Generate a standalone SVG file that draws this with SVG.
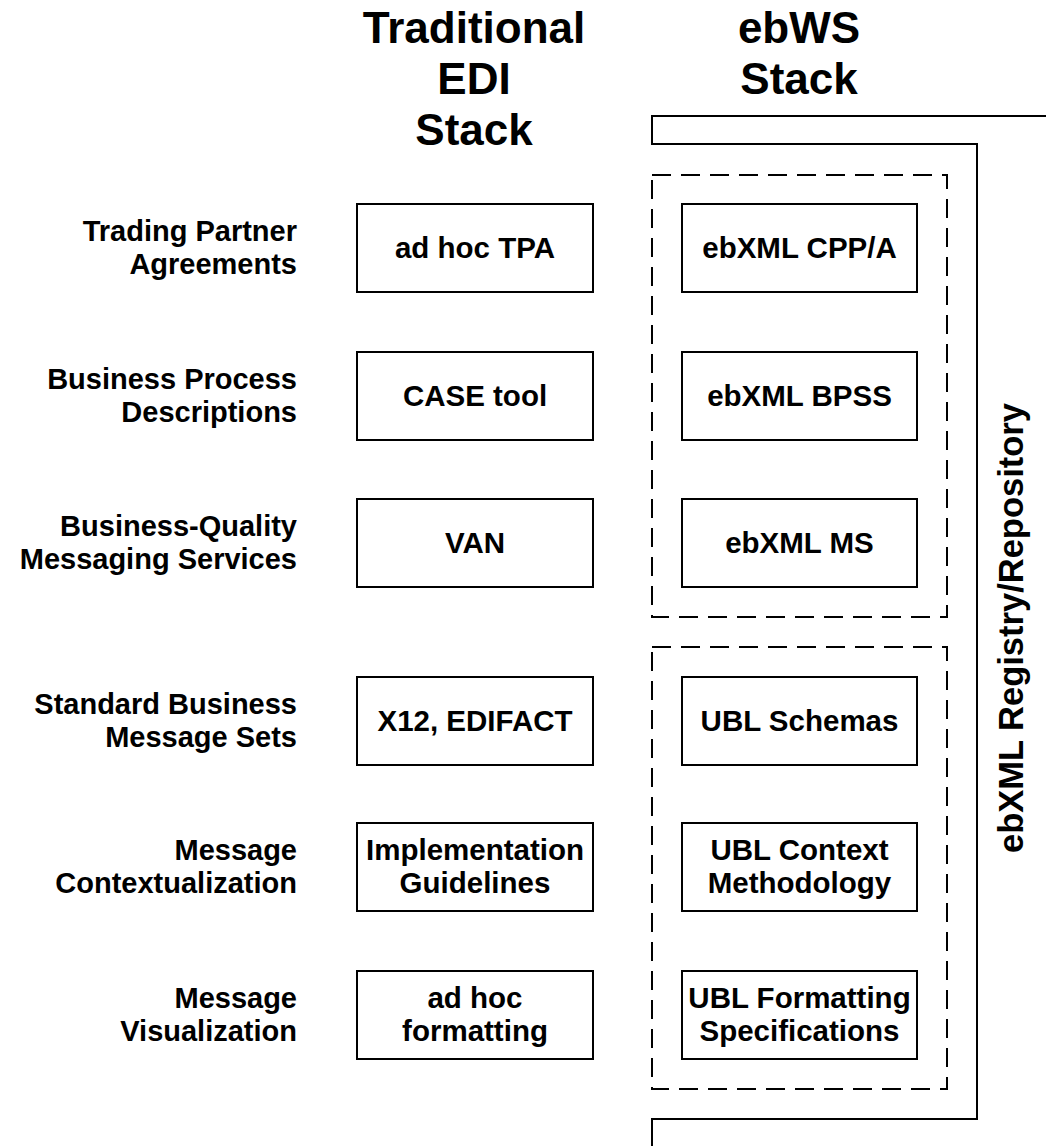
<svg xmlns="http://www.w3.org/2000/svg" width="1046" height="1146" viewBox="0 0 1046 1146">
<style>
text{font-family:"Liberation Sans",Arial,sans-serif;font-weight:bold;fill:#000}
.t{font-size:44px;text-anchor:middle}
.l{font-size:29px;text-anchor:end}
.b{font-size:29.5px;text-anchor:middle}
.v{font-size:34.5px;text-anchor:middle}
rect.n{fill:#fff;stroke:#000;stroke-width:2}
.d{fill:none;stroke:#000;stroke-width:2;stroke-dasharray:19 10}
.s{fill:none;stroke:#000;stroke-width:2}
</style>
<rect width="1046" height="1146" fill="#fff"/>
<g id="titles">
<text class="t" x="474" y="43">Traditional</text>
<text class="t" x="474" y="94">EDI</text>
<text class="t" x="474" y="145">Stack</text>
<text class="t" x="799" y="43">ebWS</text>
<text class="t" x="799" y="94">Stack</text>
</g>
<g id="labels">
<text class="l" x="297" y="241">Trading Partner</text>
<text class="l" x="297" y="274">Agreements</text>
<text class="l" x="297" y="389">Business Process</text>
<text class="l" x="297" y="422">Descriptions</text>
<text class="l" x="297" y="536">Business-Quality</text>
<text class="l" x="297" y="569">Messaging Services</text>
<text class="l" x="297" y="714">Standard Business</text>
<text class="l" x="297" y="747">Message Sets</text>
<text class="l" x="297" y="860">Message</text>
<text class="l" x="297" y="893">Contextualization</text>
<text class="l" x="297" y="1008">Message</text>
<text class="l" x="297" y="1041">Visualization</text>
</g>
<g id="connectors">
<path class="s" d="M1046 116H652V144H977V1119H652V1146"/>
<rect class="d" x="652" y="175" width="295" height="442"/>
<rect class="d" x="652" y="647" width="295" height="442"/>
</g>
<g id="edi-tpa"><rect class="n" x="357" y="204" width="236" height="88"/><text class="b" x="475" y="258">ad hoc TPA</text></g>
<g id="edi-case"><rect class="n" x="357" y="352" width="236" height="88"/><text class="b" x="475" y="406">CASE tool</text></g>
<g id="edi-van"><rect class="n" x="357" y="499" width="236" height="88"/><text class="b" x="475" y="553">VAN</text></g>
<g id="edi-x12"><rect class="n" x="357" y="677" width="236" height="88"/><text class="b" x="475" y="731">X12, EDIFACT</text></g>
<g id="edi-impl"><rect class="n" x="357" y="823" width="236" height="88"/><text class="b" x="475" y="860">Implementation</text><text class="b" x="475" y="893">Guidelines</text></g>
<g id="edi-fmt"><rect class="n" x="357" y="971" width="236" height="88"/><text class="b" x="475" y="1008">ad hoc</text><text class="b" x="475" y="1041">formatting</text></g>
<g id="ws-cpp"><rect class="n" x="682" y="204" width="235" height="88"/><text class="b" x="799.500" y="258">ebXML CPP/A</text></g>
<g id="ws-bpss"><rect class="n" x="682" y="352" width="235" height="88"/><text class="b" x="799.500" y="406">ebXML BPSS</text></g>
<g id="ws-ms"><rect class="n" x="682" y="499" width="235" height="88"/><text class="b" x="799.500" y="553">ebXML MS</text></g>
<g id="ws-ubl"><rect class="n" x="682" y="677" width="235" height="88"/><text class="b" x="799.500" y="731">UBL Schemas</text></g>
<g id="ws-ctx"><rect class="n" x="682" y="823" width="235" height="88"/><text class="b" x="799.500" y="860">UBL Context</text><text class="b" x="799.500" y="893">Methodology</text></g>
<g id="ws-fmt"><rect class="n" x="682" y="971" width="235" height="88"/><text class="b" x="799.500" y="1008">UBL Formatting</text><text class="b" x="799.500" y="1041">Specifications</text></g>
<g id="registry"><text class="v" transform="translate(1023 628) rotate(-90)">ebXML Registry/Repository</text></g>
</svg>
